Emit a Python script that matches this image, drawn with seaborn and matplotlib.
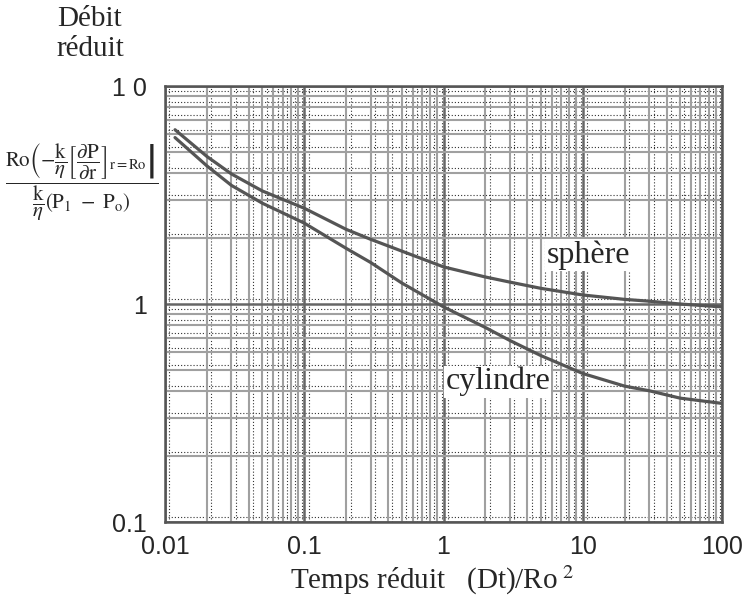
import numpy as np
import pandas as pd
import seaborn as sns
import matplotlib
matplotlib.use("Agg")
import matplotlib.pyplot as plt
from matplotlib.ticker import LogLocator, FixedLocator, FixedFormatter, NullFormatter

# values (reduced time vs reduced flow)
temps = [0.0118, 0.02, 0.03, 0.05, 0.1, 0.2, 0.3, 0.5, 1, 2, 3, 5, 10, 20, 30, 50, 100]
debit_sphere = [6.3, 4.75, 3.95, 3.3, 2.75, 2.2, 1.98, 1.75, 1.48, 1.33, 1.26, 1.18, 1.10, 1.05, 1.03, 1.0, 0.97]
debit_cylindre = [5.8, 4.3, 3.5, 2.9, 2.35, 1.8, 1.55, 1.25, 0.97, 0.78, 0.68, 0.58, 0.48, 0.42, 0.40, 0.37, 0.35]

x_ticks = [0.01, 0.1, 1, 10, 100]
x_labels = ["0.01", "0.1", "1", "10", "100"]
y_ticks = [0.1, 1, 10]
y_labels = ["0.1", "1", "1 0"]

df = pd.DataFrame({
    "temps": temps * 2,
    "debit": debit_sphere + debit_cylindre,
    "forme": ["sphère"] * len(temps) + ["cylindre"] * len(temps),
})

sns.set_style("white")
plt.rcParams["font.family"] = ["Liberation Sans", "DejaVu Sans"]
plt.rcParams["mathtext.fontset"] = "stix"

fig = plt.figure(figsize=(7.42, 5.98), dpi=100)
pos = [165 / 742, 1 - 522 / 598, 557 / 742, 436 / 598]

# dotted second sheet of log paper, slightly offset like the scan
ax2 = fig.add_axes(pos)
ax2.set_xscale("log")
ax2.set_yscale("log")
ax2.set_xlim(0.01 * 0.93, 100 * 0.93)
ax2.set_ylim(0.1 * 0.95, 10 * 0.95)
ax2.xaxis.set_minor_locator(LogLocator(base=10, subs=np.arange(2, 10)))
ax2.yaxis.set_minor_locator(LogLocator(base=10, subs=np.arange(2, 10)))
ax2.grid(which="both", color="#333333", linewidth=0.8, linestyle=(0, (1, 1.8)))
ax2.tick_params(which="both", length=0, labelbottom=False, labelleft=False)
for s in ax2.spines.values():
    s.set_visible(False)

ax = fig.add_axes(pos)
ax.patch.set_visible(False)

sns.lineplot(data=df, x="temps", y="debit", hue="forme",
             palette=["#555555", "#555555"], linewidth=2.3,
             legend=False, ax=ax)

ax.set_xscale("log")
ax.set_yscale("log")
ax.set_xlim(0.01, 100)
ax.set_ylim(0.1, 10)

ax.xaxis.set_major_locator(FixedLocator(x_ticks))
ax.xaxis.set_major_formatter(FixedFormatter(x_labels))
ax.yaxis.set_major_locator(FixedLocator(y_ticks))
ax.yaxis.set_major_formatter(FixedFormatter(y_labels))
ax.xaxis.set_minor_locator(LogLocator(base=10, subs=np.arange(2, 10)))
ax.yaxis.set_minor_locator(LogLocator(base=10, subs=np.arange(2, 10)))
ax.xaxis.set_minor_formatter(NullFormatter())
ax.yaxis.set_minor_formatter(NullFormatter())

ax.grid(which="major", color="#666666", linewidth=1.8)
ax.grid(which="minor", color="#a0a0a0", linewidth=1.5)
ax.tick_params(which="both", direction="out", color="#777777", length=10, width=1.4,
               labelsize=18, pad=3)
ax.tick_params(axis="x", which="both", length=7, pad=2)
for s in ax.spines.values():
    s.set_color("#555555")
    s.set_linewidth(1.8)
ax.set_xlabel("")
ax.set_ylabel("")

serif = ["Liberation Serif", "DejaVu Serif"]
ax.text(11, 1.68, "sphère", family=serif, fontsize=23, ha="center", va="center",
        bbox=dict(facecolor="white", edgecolor="none", pad=1))
ax.text(2.45, 0.44, "cylindre", family=serif, fontsize=23, ha="center", va="center",
        bbox=dict(facecolor="white", edgecolor="none", pad=1))

fig.text(290 / 742, 1 - 589 / 598, r"Temps réduit   (Dt)/Ro$^{\,\,2}$", family=serif,
         fontsize=21, ha="left", va="baseline")

fig.text(90 / 742, 1 - 34 / 598, "Débit\nréduit", family=serif, fontsize=21, ha="center",
         va="center", linespacing=1.2)

formule = (r"$\dfrac{\mathrm{Ro}\left(-\dfrac{\mathrm{k}}{\eta}"
           r"\left[\dfrac{\partial\mathrm{P}}{\partial\mathrm{r}}\right]_{\mathrm{r=Ro}}\right|}"
           r"{\dfrac{\mathrm{k}}{\eta}\mathrm{(P_1\ -\ P_o)}}$")
fig.text(82 / 742, 1 - 182 / 598, formule, fontsize=15, ha="center", va="center")

fig.savefig("out.png", dpi=100)
